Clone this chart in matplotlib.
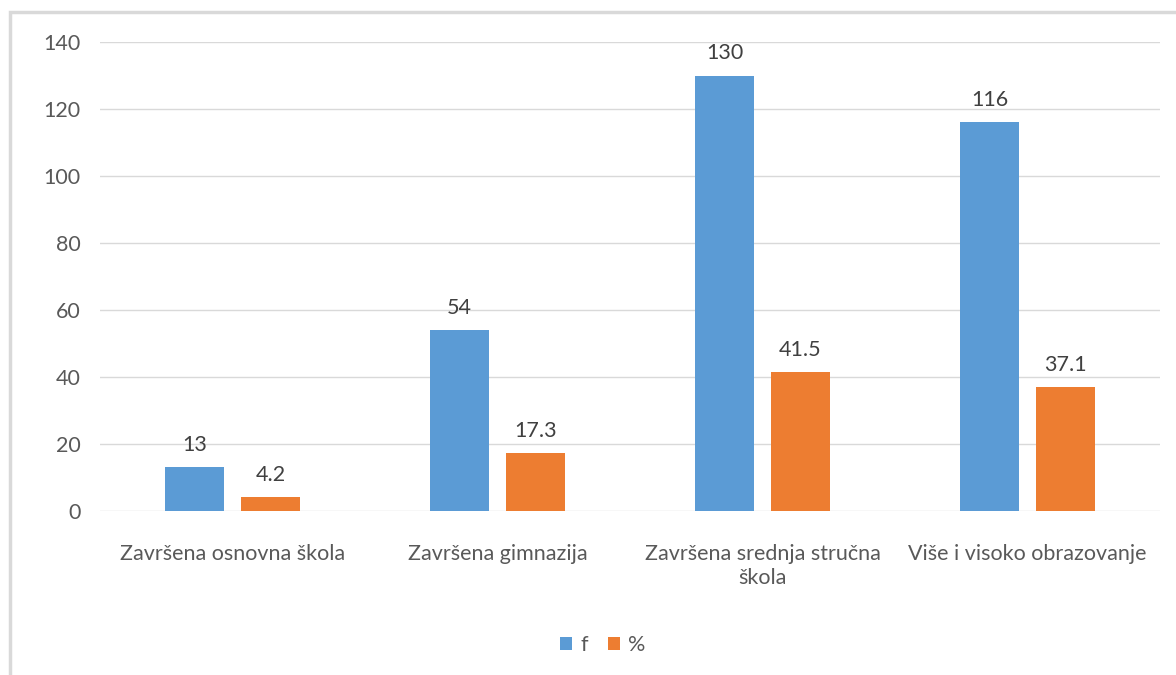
import matplotlib
matplotlib.use("Agg")
import matplotlib.pyplot as plt
import numpy as np
from matplotlib.patches import Rectangle

categories = ["Završena osnovna škola", "Završena gimnazija",
              "Završena srednja stručna\nškola", "Više i visoko obrazovanje"]
f_vals = [13, 54, 130, 116]
pct_vals = [4.2, 17.3, 41.5, 37.1]
f_labels = ["13", "54", "130", "116"]
pct_labels = ["4.2", "17.3", "41.5", "37.1"]
yticks = [0, 20, 40, 60, 80, 100, 120, 140]

plt.rcParams['font.family'] = ['Lato', 'DejaVu Sans']
blue = "#5B9BD5"
orange = "#ED7D31"
txt = "#595959"

fig = plt.figure(figsize=(11.76, 6.75), dpi=100)
# outer chart frame (cropped at right/bottom)
fig.patches.append(Rectangle((10/1176, -0.1), 1.2, (675-12)/675 + 0.1,
                             transform=fig.transFigure, fill=False,
                             edgecolor="#D9D9D9", linewidth=2.5))
ax = fig.add_axes([100/1176, 164/675, 1060/1176, 469/675])
x = np.arange(len(categories))
w = 0.223
off = 0.143
b1 = ax.bar(x - off, f_vals, w, color=blue, label="f", zorder=3)
b2 = ax.bar(x + off, pct_vals, w, color=orange, label="%", zorder=3)
for rect, lab in zip(b1, f_labels):
    ax.text(rect.get_x() + rect.get_width()/2, rect.get_height() + 3.6, lab,
            ha="center", va="bottom", fontsize=15.5, color="#404040")
for rect, lab in zip(b2, pct_labels):
    ax.text(rect.get_x() + rect.get_width()/2, rect.get_height() + 3.6, lab,
            ha="center", va="bottom", fontsize=15.5, color="#404040")

ax.set_xlim(-0.5, 3.5)
ax.set_ylim(0, 140)
ax.set_yticks(yticks)
ax.yaxis.grid(True, color="#D9D9D9", linewidth=1, zorder=0)
ax.set_xticks(x)
ax.set_xticklabels(categories, fontsize=15.5, color=txt, linespacing=1.25)
ax.tick_params(axis="y", labelsize=15.5, labelcolor=txt, length=0, pad=14)
ax.tick_params(axis="x", length=0, pad=24)
for s in ax.spines.values():
    s.set_visible(False)

ax.legend(loc="center", bbox_to_anchor=(603/1060 - 100/1060, (675-645-164)/469), ncol=2,
          frameon=False, fontsize=15.5, handlelength=0.55, handleheight=0.55,
          columnspacing=0.9, handletextpad=0.4, labelcolor=txt)
fig.savefig("out.png", dpi=100, facecolor="white")
